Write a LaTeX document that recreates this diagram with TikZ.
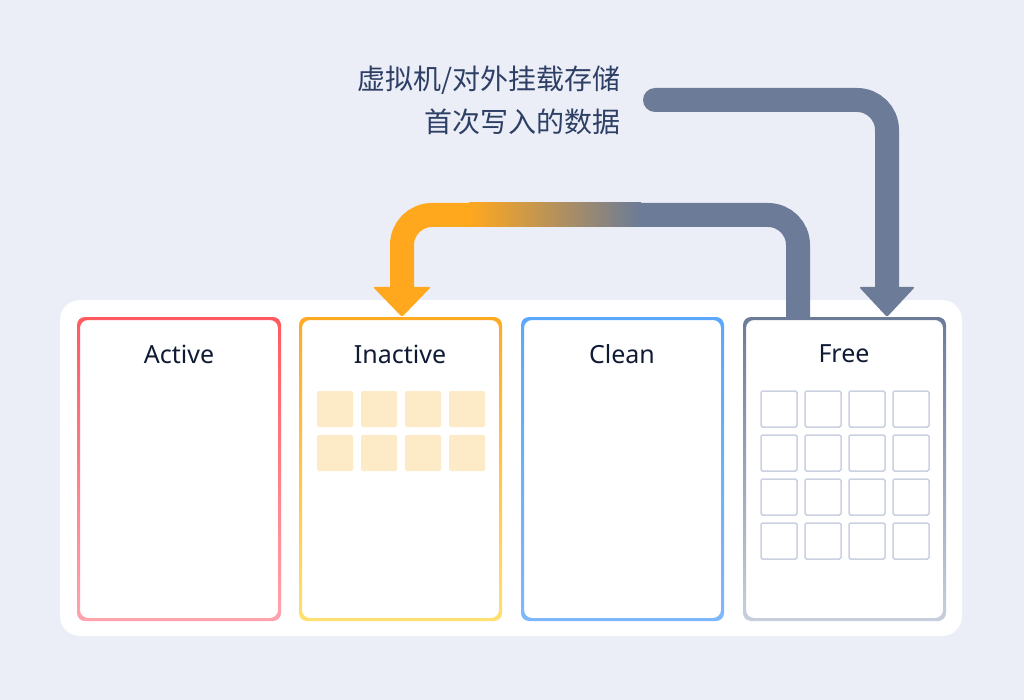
\documentclass[tikz,border=0pt]{standalone}
\usepackage{fontspec}
\setmainfont{Noto Sans}
\newfontfamily\cjk{Noto Sans CJK SC}
\usetikzlibrary{calc}
\definecolor{bg}{HTML}{EBEEF6}
\definecolor{gray}{HTML}{6B7B98}
\definecolor{orng}{HTML}{FFA81E}
\definecolor{navy}{HTML}{2E3F66}
\definecolor{ttl}{HTML}{0F1A33}
\definecolor{yel}{HTML}{FCE6B8}
\definecolor{sqb}{HTML}{CAD2E2}
\newcommand{\ringbox}[6]{% x1 y1 x2 y2 topcolor bottomcolor
  \definecolor{rtop}{HTML}{#5}\definecolor{rbot}{HTML}{#6}%
  \begin{scope}[even odd rule,rounded corners=8]
  \clip (#1,#2) rectangle (#3,#4) ($(#1,#2)+(3,3)$) rectangle ($(#3,#4)+(-3,-3)$);
  \shade[top color=rtop,bottom color=rbot] (#1,#2) rectangle (#3,#4);
  \end{scope}}
\begin{document}
\begin{tikzpicture}[x=1pt,y=-1pt,
  ttlstyle/.style={font=\bfseries\fontsize{25}{30}\selectfont,text=ttl},
  lbl/.style={font=\cjk\fontsize{28}{34}\selectfont,text=navy,anchor=east,inner sep=0},
  pipe/.style={line width=24pt},
  head/.style={rounded corners=2}]
\fill[bg] (0,0) rectangle (1024,700);
\useasboundingbox (0,0) rectangle (1024,700);
\fill[white,rounded corners=20] (60,300) rectangle (962,636);
% boxes
\foreach \x/\n in {77/act,299/ina,521/cln,743/fre}{
  \fill[white,rounded corners=9] (\x,317) rectangle (\x+204,621);
  \coordinate (\n) at (\x+102,317);
}
\ringbox{77}{317}{281}{621}{FF5A5F}{FFA3AE}
\ringbox{299}{317}{502}{621}{FFAA22}{FFE070}
\ringbox{521}{317}{724}{621}{5CA8FF}{7DB8FF}
\ringbox{743}{317}{946}{621}{6B7B98}{C8CFDC}
\node[ttlstyle] (tact) at (179,354) {Active};
\node[ttlstyle] (tina) at (400,354) {Inactive};
\node[ttlstyle] (tcln) at (622,354) {Clean};
\node[ttlstyle] (tfre) at (844,354) {Free};
% squares
\foreach \i in {0,...,3}{\foreach \j in {0,1}{
  \fill[yel,opacity=0.8,rounded corners=1.5] (317+44*\i,391+44*\j) rectangle ++(36,36);}}
\foreach \i in {0,...,3}{\foreach \j in {0,...,3}{
  \draw[sqb,line width=1.5,rounded corners=1.5] (761+44*\i,391+44*\j) rectangle ++(36,36);}}
% labels
\node[lbl] (l1) at (621,80) {虚拟机/对外挂载存储};
\node[lbl] (l2) at (621,122) {首次写入的数据};
% gray arrow from label to Free
\coordinate (g0) at (655,100);
\coordinate (gtip) at (887,317);
\draw[gray,pipe,line cap=round,rounded corners=30] (g0) -- (887,100) -- (887,292);
\fill[gray,head] (859,287) -- (915,287) -- (gtip) -- cycle;
% Free to Inactive
\coordinate (ftop) at (798,317);
\coordinate (itip) at (402,317);
\draw[gray,pipe,rounded corners=30] (ftop) -- (798,215) -- (640,215);
\shade[left color=orng,right color=gray] (469,203) rectangle (641,227);
\draw[orng,pipe,rounded corners=30] (470,215) -- (402,215) -- (402,292);
\fill[orng,head] (373,287) -- (431,287) -- (itip) -- cycle;
\end{tikzpicture}
\end{document}
